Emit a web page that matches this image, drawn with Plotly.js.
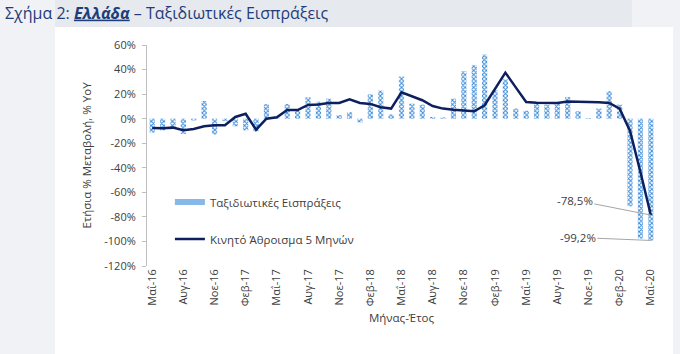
<!DOCTYPE html>
<html>
<head>
<meta charset="utf-8">
<script src="https://cdn.plot.ly/plotly-3.0.1.min.js"></script>
<style>
  html, body { margin:0; padding:0; }
  body { width:680px; height:354px; background:#f0f2f6; position:relative; overflow:hidden; }
  #band { position:absolute; left:55px; top:0; width:577px; height:27px; background:#e6e9ed; }
  #panel { position:absolute; left:55px; top:27px; width:618px; height:327px; background:#ffffff; }
  #chart { position:absolute; left:0; top:0; width:680px; height:354px; }
</style>
</head>
<body>
<div id="band"></div>
<div id="panel"></div>
<div id="chart"></div>
<script>
// Months May-2016 .. May-2020
const categories = [
  'Μαΐ-16','Ιουν-16','Ιουλ-16','Αυγ-16','Σεπ-16','Οκτ-16','Νοε-16','Δεκ-16','Ιαν-17','Φεβ-17','Μαρ-17','Απρ-17',
  'Μαΐ-17','Ιουν-17','Ιουλ-17','Αυγ-17','Σεπ-17','Οκτ-17','Νοε-17','Δεκ-17','Ιαν-18','Φεβ-18','Μαρ-18','Απρ-18',
  'Μαΐ-18','Ιουν-18','Ιουλ-18','Αυγ-18','Σεπ-18','Οκτ-18','Νοε-18','Δεκ-18','Ιαν-19','Φεβ-19','Μαρ-19','Απρ-19',
  'Μαΐ-19','Ιουν-19','Ιουλ-19','Αυγ-19','Σεπ-19','Οκτ-19','Νοε-19','Δεκ-19','Ιαν-20','Φεβ-20','Μαρ-20','Απρ-20',
  'Μαΐ-20'
];
// Travel receipts, YoY % change (bars)
const receipts = [
  -11.4, -9.5, -8.0, -12.5, -1.5, 14.4, -12.8, -2.0, -6.2, -9.5, -10.3, 11.8,
  0.8, 11.9, 6.5, 17.4, 13.8, 16.3, 3.0, 5.2, -3.0, 19.8, 22.8, 3.5,
  34.3, 12.2, 11.4, 1.4, 1.0, 16.3, 38.6, 43.5, 52.2, 23.0, 32.0, 8.2,
  6.5, 12.2, 11.4, 13.6, 17.7, 6.0, 0.5, 8.2, 22.3, 11.4, -71.4, -97.7,
  -99.2
];
// 5-month moving sum, YoY % change (line)
const movingSum5 = [
  -7.6, -7.9, -7.3, -9.5, -8.4, -6.2, -5.4, -5.4, 1.4, 4.0, -9.0, 0.0,
  1.2, 7.0, 7.0, 11.2, 11.5, 12.8, 12.8, 15.8, 12.8, 12.0, 9.3, 8.2,
  21.5, 18.5, 15.0, 10.3, 8.2, 7.3, 6.8, 6.0, 10.9, 24.0, 37.5, 25.5,
  13.6, 13.0, 12.8, 12.8, 14.0, 14.0, 13.6, 13.3, 12.8, 8.2, -10.0, -43.4,
  -78.5
];
const seriesNames = ['Ταξιδιωτικές Εισπράξεις', 'Κινητό Άθροισμα 5 Μηνών'];
const yTickVals = [60, 40, 20, 0, -20, -40, -60, -80, -100, -120];
const yTickLabels = ['60%','40%','20%','0%','-20%','-40%','-60%','-80%','-100%','-120%'];
const yRange = [-120, 60];
const calloutLabels = ['-78,5%', '-99,2%'];

const last = categories.length - 1;
const zeroPos = (0 - yRange[0]) / (yRange[1] - yRange[0]);
const FONT = 'Open Sans, Noto Sans, sans-serif';
const GREY = '#404040';
const AXIS = '#bfbfbf';

const traces = [
  {
    type: 'bar', x: categories, y: receipts, name: seriesNames[0], showlegend: false,
    marker: { color: '#ffffff', line: { width: 0 },
      pattern: { shape: 'x', size: 3, solidity: 0.55, fgcolor: '#3a8ad8', bgcolor: '#ffffff' } },
    hoverinfo: 'x+y'
  },
  {
    // legend entry for bars (wide swatch like the original)
    type: 'scatter', mode: 'lines', x: [null], y: [null], name: seriesNames[0],
    line: { color: '#86b8e8', width: 6 }, legendgroup: 'a', showlegend: true, hoverinfo: 'skip'
  },
  {
    type: 'scatter', mode: 'lines', x: categories, y: movingSum5, name: seriesNames[1],
    line: { color: '#0c1f5e', width: 2.5 }, legendgroup: 'b', showlegend: true
  }
];

const layout = {
  width: 680, height: 354,
  margin: { l: 147, r: 24, t: 45, b: 88 },
  paper_bgcolor: 'rgba(0,0,0,0)', plot_bgcolor: 'rgba(0,0,0,0)',
  font: { family: FONT, color: GREY, size: 11 },
  title: {
    text: 'Σχήμα 2: <b><i><u>Ελλάδα</u></i></b> – Ταξιδιωτικές Εισπράξεις',
    xref: 'container', x: 5/680, xanchor: 'left',
    yref: 'container', y: 1 - 13/354, yanchor: 'middle',
    font: { family: FONT, size: 16, color: '#1f3d7a' }
  },
  bargap: 0.5,
  showlegend: true,
  legend: {
    x: 0.045, xanchor: 'left', y: 0.355, yanchor: 'top',
    bgcolor: 'rgba(0,0,0,0)', traceorder: 'grouped', tracegroupgap: 18,
    font: { family: FONT, size: 11.5, color: GREY }
  },
  xaxis: {
    type: 'category', range: [-0.5, last + 0.5],
    tickmode: 'linear', tick0: 0, dtick: 3, tickangle: -90,
    showline: false, showgrid: false, zeroline: false, ticks: '',
    tickfont: { family: FONT, size: 11, color: GREY },
    title: { text: 'Μήνας-Έτος', font: { family: FONT, size: 11.5, color: GREY }, standoff: 8 }
  },
  xaxis2: {
    overlaying: 'x', anchor: 'free', position: zeroPos, type: 'linear',
    range: [-0.5, last + 0.5], tickmode: 'linear', tick0: -0.5, dtick: 3,
    ticks: 'outside', ticklen: 4, tickcolor: AXIS, showticklabels: false,
    showline: true, linecolor: AXIS, linewidth: 1, showgrid: false, zeroline: false
  },
  yaxis: {
    range: yRange, tickmode: 'array', tickvals: yTickVals, ticktext: yTickLabels,
    showline: true, linecolor: AXIS, linewidth: 1, ticks: 'outside', ticklen: 4, tickcolor: AXIS,
    showgrid: false, zeroline: false, ticklabelstandoff: 4,
    tickfont: { family: FONT, size: 11, color: GREY },
    title: { text: 'Ετήσια % Μεταβολή, % YoY', font: { family: FONT, size: 11.5, color: GREY }, standoff: 10 }
  },
  annotations: [
    { x: categories[last], y: movingSum5[last], xref: 'x', yref: 'y', text: calloutLabels[0],
      showarrow: true, arrowhead: 0, arrowwidth: 1, arrowcolor: '#a6a6a6', ax: -76, ay: -15,
      font: { family: FONT, size: 11.5, color: GREY } },
    { x: categories[last], y: receipts[last], xref: 'x', yref: 'y', text: calloutLabels[1],
      showarrow: true, arrowhead: 0, arrowwidth: 1, arrowcolor: '#a6a6a6', ax: -73, ay: -3,
      font: { family: FONT, size: 11.5, color: GREY } }
  ]
};

Plotly.newPlot('chart', traces, layout, { displayModeBar: false, staticPlot: true });
</script>
</body>
</html>
